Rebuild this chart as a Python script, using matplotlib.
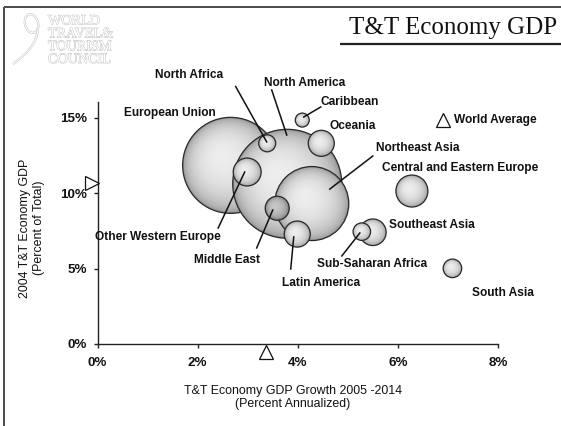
import numpy as np
import matplotlib
matplotlib.use("Agg")
import matplotlib.pyplot as plt
from matplotlib.patches import Circle, Ellipse, PathPatch
from matplotlib.path import Path
from matplotlib.transforms import ScaledTranslation, offset_copy
import matplotlib.patheffects as pe

# ---------------- data ----------------
regions = ["European Union", "North America", "Northeast Asia", "Other Western Europe",
           "North Africa", "Caribbean", "Oceania", "Middle East", "Latin America",
           "Southeast Asia", "Sub-Saharan Africa", "Central and Eastern Europe", "South Asia"]
growth_pct = [2.66, 3.79, 4.28, 2.99, 3.39, 4.09, 4.47, 3.59, 3.99, 5.50, 5.28, 6.28, 7.09]
share_pct = [11.83, 10.61, 9.30, 11.39, 13.29, 14.83, 13.29, 8.99, 7.28, 7.40, 7.44, 10.13, 5.01]
tt_gdp_bn = [991, 1277, 589, 84, 31, 21, 73, 62, 73, 76, 33, 110, 37]
world_avg_growth = 3.37
world_avg_share = 10.66
x_ticks = [0, 2, 4, 6, 8]
y_ticks = [0, 5, 10, 15]

# label placement (data coords) and leader lines
label_pos = {
    "European Union": (1.45, 15.30),
    "North America": (4.14, 17.28),
    "Northeast Asia": (6.40, 12.98),
    "Other Western Europe": (1.21, 7.09),
    "North Africa": (1.83, 17.80),
    "Caribbean": (5.04, 16.03),
    "Oceania": (5.10, 14.44),
    "Middle East": (2.58, 5.56),
    "Latin America": (4.46, 4.04),
    "Southeast Asia": (6.68, 7.88),
    "Sub-Saharan Africa": (5.48, 5.30),
    "Central and Eastern Europe": (7.24, 11.66),
    "South Asia": (8.09, 3.38),
}
leaders = {
    "North Africa": ((2.76, 17.05), (3.38, 13.38)),
    "North America": ((3.48, 16.82), (3.78, 13.84)),
    "Caribbean": ((4.46, 15.70), (4.12, 15.03)),
    "Northeast Asia": ((5.50, 12.45), (4.64, 10.26)),
    "Other Western Europe": ((2.94, 11.39), (2.41, 7.68)),
    "Middle East": ((3.50, 8.87), (3.18, 6.36)),
    "Latin America": ((3.92, 7.09), (3.86, 4.97)),
    "Sub-Saharan Africa": ((5.24, 7.35), (4.88, 5.83)),
}

DPI = 100
W, H = 561, 426
fig = plt.figure(figsize=(W / DPI, H / DPI), dpi=DPI)
fig.patch.set_facecolor("white")

# overlay axes in pixel coordinates for frame / title / logo
ov = fig.add_axes([0, 0, 1, 1], zorder=0)
ov.set_xlim(0, W)
ov.set_ylim(H, 0)
ov.axis("off")

ax = fig.add_axes([97.5 / W, 1 - 344 / H, (498 - 97.5) / W, (344 - 102.4) / H], zorder=2)
ax.patch.set_alpha(0)
ax.set_xlim(0, 8)
ax.set_ylim(0, 16)

sans = "Liberation Sans"
serif = "Liberation Serif"

# frame lines
ov.plot([4, W], [7, 7], color="#4a4a4a", lw=1.4, solid_capstyle="butt")
ov.plot([4, 4], [7, H], color="#4a4a4a", lw=1.4, solid_capstyle="butt")
ov.plot([340, W], [43.5, 43.5], color="#222222", lw=1.6, solid_capstyle="butt")
ov.text(557, 34, "T&T Economy GDP", family=serif, fontsize=18, ha="right", va="baseline",
        color="#111111")

# logo
logo_fx = [pe.withStroke(linewidth=0.7, foreground="#c4c4c4")]
ov.text(48, 14.5, "WORLD\nTRAVEL&\nTOURISM\nCOUNCIL", family=serif, fontsize=10.2,
        color="white", ha="left", va="top", linespacing=0.98, path_effects=logo_fx)
line_fx = [pe.Stroke(linewidth=1.6, foreground="#c4c4c4"), pe.Normal()]
loop = Ellipse((31.5, 23.5), 13, 19, angle=-15, fill=False, edgecolor="white", lw=0.8,
               path_effects=line_fx)
ov.add_patch(loop)
tail = Path([(38, 24), (40, 45), (13, 64)], [Path.MOVETO, Path.CURVE3, Path.CURVE3])
ov.add_patch(PathPatch(tail, fill=False, edgecolor="white", lw=0.8, path_effects=line_fx))

# axes styling
for s in ["top", "right"]:
    ax.spines[s].set_visible(False)
for s in ["left", "bottom"]:
    ax.spines[s].set_linewidth(1.0)
    ax.spines[s].set_color("#222222")
ax.set_xticks(x_ticks)
ax.set_yticks(y_ticks)
ax.set_xticklabels([f"{v}%" for v in x_ticks], family=sans, fontweight="bold", fontsize=9.6)
ax.set_yticklabels([f"{v}%" for v in y_ticks], family=sans, fontweight="bold", fontsize=9.6)
ax.tick_params(axis="x", direction="out", length=3, width=1, pad=6.5, colors="#222222")
ax.tick_params(axis="y", direction="out", length=3, width=1, pad=4.5, colors="#222222")
for lab in ax.get_xticklabels() + ax.get_yticklabels():
    lab.set_color("#111111")

ov.text(293, 397.5, "T&T Economy GDP Growth 2005 -2014\n(Percent Annualized)", family=sans,
        fontsize=8.9, ha="center", va="center", linespacing=1.2, color="#111111")
ov.text(32, 228, "2004 T&T Economy GDP\n(Percent of Total)", family=sans, fontsize=8.9,
        ha="center", va="center", rotation=90, linespacing=1.2, color="#111111")

# bubbles
def radius_px(v):
    return np.sqrt(v / 0.43)

def draw_bubble(x, y, r_px, z, dark=False):
    trans = fig.dpi_scale_trans + ScaledTranslation(x, y, ax.transData)
    r = r_px / DPI
    if dark:
        c_edge, c_center = 0.42, 0.78
    else:
        c_edge, c_center = 0.56, 0.93
    n = 40
    for i in range(n):
        t = i / n
        rr = r * (1 - t)
        f = np.sqrt(1 - (1 - t) ** 2)
        c = c_edge + (c_center - c_edge) * f
        off = 0.22 * r * t
        ax.add_patch(Circle((-off, off), rr, transform=trans, facecolor=(c, c, c),
                            edgecolor="none", zorder=z, clip_on=False))
    ax.add_patch(Circle((0, 0), r, transform=trans, facecolor="none", edgecolor="#2a2a2a",
                        lw=0.9, zorder=z + 0.01, clip_on=False))

for k, (name, x, y, v) in enumerate(zip(regions, growth_pct, share_pct, tt_gdp_bn)):
    draw_bubble(x, y, radius_px(v), 3 + k * 0.1, dark=(name == "Middle East"))

# leader lines
for name, (p0, p1) in leaders.items():
    ax.plot([p0[0], p1[0]], [p0[1], p1[1]], color="#111111", lw=1.1, zorder=10, clip_on=False)

# labels
for name in regions:
    lx, ly = label_pos[name]
    ax.text(lx, ly, name, family=sans, fontweight="bold", fontsize=8.6, ha="center",
            va="center", color="#111111", zorder=11, clip_on=False)

# world average markers
tri_kw = dict(markerfacecolor="white", markeredgecolor="#111111", markeredgewidth=0.9,
              clip_on=False, zorder=12, linestyle="none")
ax.plot([0], [world_avg_share], marker=">", markersize=9.5,
        transform=offset_copy(ax.transData, fig=fig, x=-5.5 * 72 / DPI, y=0, units="points"),
        **tri_kw)
ax.plot([world_avg_growth], [0], marker="^", markersize=10.5,
        transform=offset_copy(ax.transData, fig=fig, x=0, y=-8 * 72 / DPI, units="points"),
        **tri_kw)
ov.plot([442.7], [120], marker="^", markersize=10, **tri_kw)
ov.text(454, 120, "World Average", family=sans, fontweight="bold", fontsize=8.6, ha="left",
        va="center", color="#111111")

fig.savefig("out.png", dpi=DPI)
